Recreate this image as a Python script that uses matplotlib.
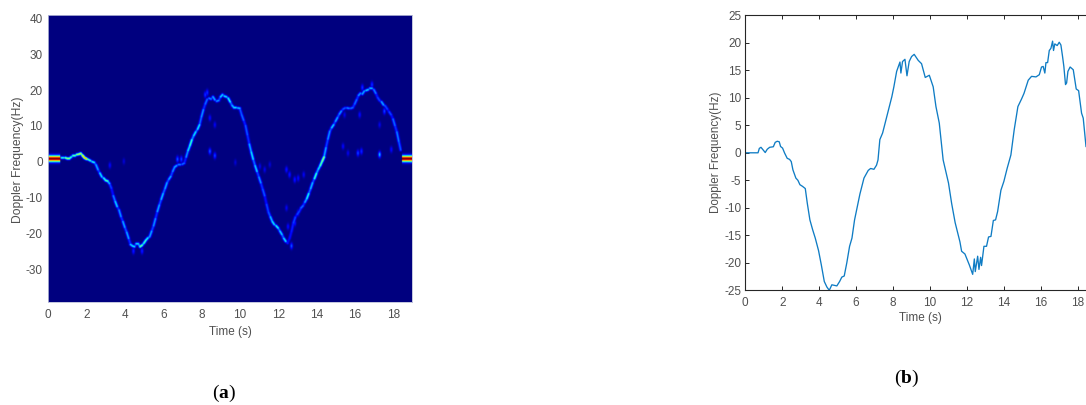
"""Doppler spectrogram (a) and extracted Doppler curve (b)."""
import matplotlib
matplotlib.use("Agg")
import matplotlib.pyplot as plt
import numpy as np

W, H = 1086, 405

plt.rcParams.update({
    "font.family": "Liberation Sans",
    "font.size": 8.5,
    "axes.unicode_minus": False,
    "mathtext.fontset": "custom",
    "mathtext.rm": "Liberation Serif",
    "mathtext.bf": "Liberation Serif:bold",
})

INK = "#505050"
LINE = "#0f7cc4"

# ---- (a) spectrogram ridge, read every 0.1 s from 0.7 s ----
ridge_start = 0.7
ridge_freq = [
    1.0, 1.0, 1.0, 0.8, 0.8, 1.2, 1.6, 1.6, 1.9, 2.0,
    2.2, 1.6, 1.0, 0.7, 0.5, 0.2, -0.1, -0.3, -1.0, -2.3,
    -3.3, -4.3, -4.7, -5.3, -5.5, -6.2, -7.5, -9.6, -11.2, -12.6,
    -13.6, -15.4, -16.8, -18.4, -19.8, -21.5, -23.2, -23.6, -23.8, -23.0,
    -23.0, -23.8, -23.4, -22.8, -22.0, -21.4, -21.0, -19.5, -18.0, -16.0,
    -14.0, -12.2, -10.6, -9.0, -7.6, -6.0, -5.0, -4.2, -2.8, -1.6,
    -1.2, -0.9, -0.9, -0.8, -0.5, 1.2, 3.0, 4.4, 6.0, 7.2,
    8.2, 9.0, 10.2, 12.4, 14.4, 16.0, 17.3, 17.6, 17.4, 18.0,
    17.2, 16.8, 17.0, 18.0, 18.6, 18.2, 18.0, 17.6, 16.6, 15.6,
    15.0, 15.0, 14.9, 14.8, 13.0, 11.5, 10.0, 7.4, 4.8, 2.6,
    0.6, -1.2, -2.8, -4.4, -6.0, -7.8, -9.6, -12.0, -14.2, -15.5,
    -16.8, -17.6, -18.0, -18.6, -19.5, -20.4, -21.5, -22.3, -22.8, -21.5,
    -19.6, -17.2, -15.6, -14.8, -14.0, -13.0, -12.4, -11.4, -10.4, -9.0,
    -7.6, -6.0, -4.8, -3.4, -2.2, -1.2, 0.0, 1.2, 3.8, 6.2,
    8.4, 9.4, 10.2, 11.2, 12.2, 13.2, 14.0, 14.6, 14.9, 14.9,
    14.8, 14.8, 15.0, 16.0, 17.2, 18.4, 19.0, 18.8, 19.6, 19.8,
    20.0, 20.4, 20.4, 20.0, 19.0, 17.8, 17.0, 16.6, 15.8, 15.4,
    14.6, 13.8, 13.0, 11.8, 10.0, 8.2, 5.6, 3.2,
]
ridge_amp = [
    0.40, 0.30, 0.50, 0.55, 0.42, 0.32, 0.48, 0.38, 0.55, 0.60,
    0.50, 0.70, 0.74, 0.45, 0.42, 0.30, 0.38, 0.24, 0.30, 0.20,
    0.36, 0.26, 0.40, 0.46, 0.32, 0.20, 0.14, 0.26, 0.34, 0.18,
    0.28, 0.18, 0.30, 0.22, 0.30, 0.18, 0.34, 0.36, 0.20, 0.36,
    0.30, 0.48, 0.34, 0.42, 0.38, 0.28, 0.30, 0.20, 0.28, 0.18,
    0.30, 0.22, 0.32, 0.24, 0.30, 0.22, 0.30, 0.20, 0.28, 0.30,
    0.20, 0.26, 0.16, 0.24, 0.16, 0.28, 0.36, 0.42, 0.28, 0.36,
    0.26, 0.36, 0.24, 0.28, 0.18, 0.24, 0.16, 0.26, 0.20, 0.30,
    0.18, 0.28, 0.20, 0.34, 0.24, 0.36, 0.26, 0.38, 0.24, 0.32,
    0.36, 0.24, 0.32, 0.22, 0.24, 0.16, 0.22, 0.18, 0.30, 0.36,
    0.24, 0.34, 0.20, 0.28, 0.18, 0.22, 0.14, 0.20, 0.22, 0.32,
    0.36, 0.28, 0.38, 0.26, 0.34, 0.24, 0.36, 0.16, 0.12, 0.14,
    0.16, 0.20, 0.14, 0.20, 0.18, 0.24, 0.18, 0.30, 0.38, 0.24,
    0.32, 0.22, 0.42, 0.30, 0.36, 0.46, 0.52, 0.30, 0.20, 0.28,
    0.22, 0.34, 0.20, 0.30, 0.22, 0.28, 0.18, 0.22, 0.18, 0.26,
    0.20, 0.24, 0.18, 0.24, 0.18, 0.28, 0.20, 0.30, 0.24, 0.34,
    0.22, 0.32, 0.20, 0.26, 0.16, 0.20, 0.18, 0.30, 0.22, 0.20,
    0.14, 0.20, 0.14, 0.24, 0.18, 0.26, 0.22, 0.36,
]
# weak returns away from the ridge: time, frequency, strength
stray_time = [3.22, 3.95, 6.75, 6.95, 8.30, 8.44, 8.70, 8.44, 8.70, 9.77,
              11.05, 11.30, 11.57, 12.44, 12.60, 12.87, 13.05, 13.34, 12.44, 12.52,
              12.70, 13.05, 12.87, 15.39, 15.65, 16.17, 16.35, 17.30, 17.91, 16.26,
              17.30, 15.47, 16.40, 16.90, 4.45, 4.90, 8.20, 17.55]
stray_freq = [-1.1, 0.0, 0.6, 0.6, 19.2, 12.1, 10.2, 2.8, 1.6, -0.3,
              -1.4, -2.3, -0.9, -2.3, -3.7, -5.1, -4.7, -3.7, -13.0, -18.2,
              -23.6, -14.4, -17.2, 4.2, 2.3, 2.3, 2.8, 1.9, 3.3, 13.0,
              10.2, 13.0, 20.6, 21.4, -25.0, -25.0, 18.6, 14.0]
stray_amp = [0.12, 0.08, 0.22, 0.20, 0.18, 0.13, 0.11, 0.22, 0.20, 0.08,
             0.10, 0.10, 0.08, 0.15, 0.15, 0.15, 0.13, 0.11, 0.11, 0.13,
             0.22, 0.15, 0.15, 0.12, 0.10, 0.20, 0.17, 0.32, 0.13, 0.13,
             0.10, 0.10, 0.18, 0.18, 0.16, 0.16, 0.18, 0.20]
# constant full-strength tone at each end of the record
band_spans = [(0.0, 0.62), (18.48, 19.0)]
band_freq = 0.75

# ---- (b) extracted Doppler frequency ----
curve_time = [
    0.0, 0.69, 0.76, 0.85, 0.96, 1.08, 1.19, 1.32, 1.52, 1.62, 1.73, 1.84, 1.91, 2.02,
    2.13, 2.27, 2.40, 2.49, 2.58, 2.74, 2.85, 2.96, 3.10, 3.25, 3.36, 3.50, 3.65, 3.79,
    3.97, 4.12, 4.28, 4.42, 4.55, 4.69, 4.84, 4.96, 5.11, 5.23, 5.36, 5.50, 5.65, 5.78,
    5.92, 6.07, 6.21, 6.43, 6.66, 6.79, 6.97, 7.11, 7.19, 7.29, 7.44, 7.62, 7.80, 7.94,
    8.05, 8.20, 8.38, 8.43, 8.52, 8.65, 8.76, 8.88, 9.01, 9.15, 9.37, 9.55, 9.75, 9.97,
    10.18, 10.33, 10.51, 10.72, 11.01, 11.18, 11.37, 11.45, 11.63, 11.72, 11.90, 12.14, 12.32, 12.41,
    12.46, 12.59, 12.66, 12.75, 12.80, 12.93, 13.07, 13.18, 13.31, 13.44, 13.56, 13.67, 13.85, 14.01,
    14.19, 14.39, 14.57, 14.77, 14.97, 15.10, 15.33, 15.51, 15.75, 15.93, 16.05, 16.14, 16.23, 16.29,
    16.38, 16.47, 16.56, 16.65, 16.70, 16.77, 16.90, 17.01, 17.10, 17.19, 17.26, 17.35, 17.41, 17.48,
    17.60, 17.77, 17.93, 18.06, 18.22, 18.31, 18.46,
]
curve_freq = [
    0.0, 0.0, 0.8, 1.0, 0.55, 0.05, 0.65, 1.0, 1.1, 1.9, 2.1, 2.0, 1.15, 0.85,
    -0.05, -1.0, -1.2, -1.6, -3.1, -4.6, -5.0, -5.8, -6.1, -6.5, -9.2, -12.2, -14.0, -15.5,
    -17.8, -20.4, -23.4, -24.4, -25.0, -24.0, -24.1, -24.2, -23.4, -22.6, -22.4, -20.0, -17.0, -15.5,
    -12.2, -9.8, -7.5, -4.6, -3.2, -2.85, -3.0, -2.25, -1.3, 2.4, 3.6, 6.0, 8.4, 10.2,
    12.0, 14.8, 16.5, 14.5, 16.6, 17.0, 14.0, 16.6, 17.5, 17.9, 16.8, 16.2, 13.7, 14.1,
    12.0, 8.4, 5.4, -1.3, -5.5, -9.2, -12.7, -13.8, -16.2, -17.9, -18.4, -20.4, -22.1, -19.3,
    -21.6, -18.8, -21.2, -19.0, -20.5, -17.0, -17.0, -15.3, -15.2, -12.3, -12.2, -10.7, -6.8, -5.2,
    -2.8, -0.4, 4.2, 8.4, 9.8, 10.8, 13.2, 13.9, 13.8, 14.2, 15.6, 15.7, 14.5, 16.4,
    16.4, 18.6, 19.0, 20.3, 18.6, 19.8, 19.5, 20.1, 19.6, 17.5, 15.7, 12.4, 12.7, 14.8,
    15.6, 15.1, 11.6, 11.3, 7.2, 6.3, 1.15,
]

a_xticks = list(range(0, 20, 2))
a_yticks = list(range(-30, 50, 10))
b_xticks = list(range(0, 20, 2))
b_yticks = list(range(-25, 30, 5))


def _rect(x0, y0, x1, y1):
    """Pixel box (top-left origin) to figure fractions."""
    return [x0 / W, 1 - y1 / H, (x1 - x0) / W, (y1 - y0) / H]


def _heat(xlim, ylim):
    t = np.arange(xlim[0], xlim[1], 0.02)
    f = np.arange(ylim[0], ylim[1], 0.1)
    tt, ff = np.meshgrid(t, f)
    z = np.zeros_like(tt)

    # ridge: strength falls off with distance from each read-off step
    st, sf = 0.05, 0.26
    for i in range(len(ridge_freq) - 1):
        t0 = ridge_start + i * 0.1
        f0, f1 = ridge_freq[i], ridge_freq[i + 1]
        du, dv = (tt - t0) / st, (ff - f0) / sf
        ex, ey = 0.1 / st, (f1 - f0) / sf
        k = np.clip((du * ex + dv * ey) / (ex ** 2 + ey ** 2), 0, 1)
        g = ridge_amp[i] * np.exp(-((du - k * ex) ** 2 + (dv - k * ey) ** 2) / 2)
        np.maximum(z, g, out=z)

    for t0, f0, a in zip(stray_time, stray_freq, stray_amp):
        g = a * np.exp(-((tt - t0) / 0.05) ** 2 / 2 - ((ff - f0) / 0.6) ** 2 / 2)
        np.maximum(z, g, out=z)

    for t0, t1 in band_spans:
        mask = (tt >= t0) & (tt <= t1)
        z[mask] = np.exp(-((ff[mask] - band_freq) / 0.6) ** 2 / 2)
    return z


fig = plt.figure(figsize=(W / 100, H / 100), dpi=100)

# ---- panel (a) ----------------------------------------------------------
ax = fig.add_axes(_rect(48.3, 15.3, 412.3, 302))
xlim, ylim = (0, 19), (-39.2, 40.9)
ax.imshow(_heat(xlim, ylim), cmap="jet", vmin=0, vmax=1, origin="lower", aspect="auto",
          extent=[*xlim, *ylim], interpolation="bilinear")
ax.set_xlim(xlim)
ax.set_ylim(ylim)
ax.set_xticks(a_xticks)
ax.set_yticks(a_yticks)
ax.tick_params(length=0, colors=INK, labelsize=8.5, pad=5)
ax.tick_params(axis="y", pad=4)
for s in ax.spines.values():
    s.set_color("#b8bcd8")
    s.set_linewidth(0.6)
fig.text(230.5 / W, 1 - 331.5 / H, "Time (s)", color=INK, fontsize=8.5, ha="center", va="center")
fig.text(18.5 / W, 1 - 159.5 / H, "Doppler Frequency(Hz)", rotation=90, color=INK, fontsize=8.7,
         ha="center", va="center")

# ---- panel (b) ----------------------------------------------------------
ax2 = fig.add_axes(_rect(745.3, 15.3, 1086, 290.3))
ax2.plot(curve_time, curve_freq, color=LINE, lw=0.95)
ax2.set_xlim(0, 18.46)
ax2.set_ylim(-25, 25)
ax2.set_xticks(b_xticks)
ax2.set_yticks(b_yticks)
ax2.tick_params(axis="both", direction="in", length=3, width=0.7, color="#262626",
                labelcolor=INK, labelsize=8.5, top=True, pad=3)
ax2.tick_params(axis="x", pad=5)
ax2.spines["right"].set_visible(False)
for s in ("left", "top", "bottom"):
    ax2.spines[s].set_color("#262626")
    ax2.spines[s].set_linewidth(0.8)
fig.text(920 / W, 1 - 318.5 / H, "Time (s)", color=INK, fontsize=8.5, ha="center", va="center")
fig.text(716.5 / W, 1 - 152.5 / H, "Doppler Frequency(Hz)", rotation=90, color=INK, fontsize=8.4,
         ha="center", va="center")

# ---- captions -----------------------------------------------------------
fig.text(224 / W, 1 - 393 / H, r"$\mathrm{(}\mathbf{a}\mathrm{)}$", fontsize=14, color="black",
         ha="center", va="center")
fig.text(907 / W, 1 - 378 / H, r"$\mathrm{(}\mathbf{b}\mathrm{)}$", fontsize=14, color="black",
         ha="center", va="center")

fig.savefig("out.png", dpi=100)
